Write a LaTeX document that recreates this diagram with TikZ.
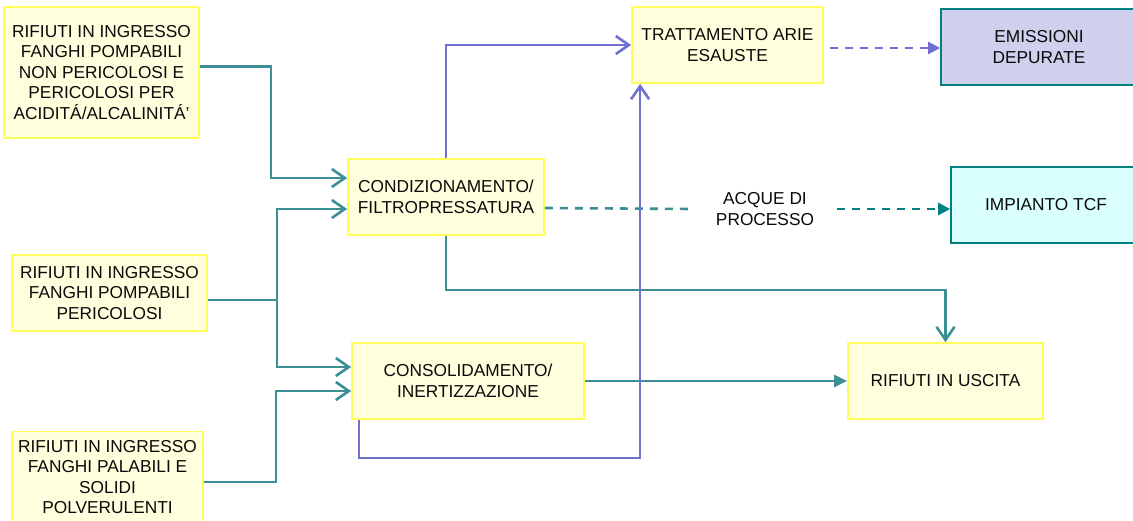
\documentclass[tikz,border=0pt]{standalone}
\usepackage{fontspec}
\setmainfont{Liberation Sans}
\usetikzlibrary{arrows.meta}
\definecolor{boxfill}{RGB}{255,255,221}
\definecolor{boxline}{RGB}{255,255,90}
\definecolor{tealline}{RGB}{61,143,150}
\definecolor{tealdark}{RGB}{0,128,128}
\definecolor{blueline}{RGB}{112,112,208}
\definecolor{emisfill}{RGB}{207,207,238}
\definecolor{tcffill}{RGB}{218,255,255}
\definecolor{textcol}{RGB}{10,10,10}

\begin{document}
\begin{tikzpicture}[x=1pt,y=-1pt]
\tikzstyle{every node}=[font=\fontsize{17.3}{20.5}\selectfont, text=textcol, align=center, inner sep=0pt]
\tikzstyle{stepbox}=[draw=boxline, fill=boxfill, line width=1.8pt]
\tikzstyle{outbox}=[draw=tealdark, line width=1.6pt]
\tikzstyle{feed}=[draw=tealline, line width=2.6pt, -{Straight Barb[length=13pt,width=18pt]}]
\tikzstyle{air}=[draw=blueline, line width=2.6pt, -{Straight Barb[length=13pt,width=18pt]}]
\tikzstyle{flow}=[draw=tealline, line width=2.6pt, -{Triangle[length=13pt,width=12pt]}]
\tikzstyle{dashflow}=[line width=2.6pt, dash pattern=on 8pt off 7pt]
\useasboundingbox (0,0) rectangle (1133,520);
\fill[white] (0,0) rectangle (1133,520);
% ingressi
\node at (101.5,72.5) [stepbox, minimum width=195pt, minimum height=131pt] (inA)
  {RIFIUTI IN INGRESSO\\FANGHI POMPABILI\\NON PERICOLOSI E\\PERICOLOSI PER\\ACIDITÁ/ALCALINITÁ’};
\node at (109.5,293) [stepbox, minimum width=195pt, minimum height=76pt] (inB)
  {RIFIUTI IN INGRESSO\\FANGHI POMPABILI\\PERICOLOSI};
\node at (107.5,477) [stepbox, minimum width=191pt, minimum height=91pt] (inC)
  {RIFIUTI IN INGRESSO\\FANGHI PALABILI E\\SOLIDI\\POLVERULENTI};
% trattamenti
\node at (446,197) [stepbox, minimum width=196pt, minimum height=76pt] (cond)
  {CONDIZIONAMENTO/\\FILTROPRESSATURA};
\node at (468,381) [stepbox, minimum width=232pt, minimum height=76pt] (cons)
  {CONSOLIDAMENTO/\\INERTIZZAZIONE};
\node at (727.5,45) [stepbox, minimum width=191pt, minimum height=76pt] (tratt)
  {TRATTAMENTO ARIE\\ESAUSTE};
% uscite
\node at (1039,47) [outbox, fill=emisfill, minimum width=196pt, minimum height=76pt] (emis)
  {EMISSIONI\\DEPURATE};
\node at (1046,205) [outbox, fill=tcffill, minimum width=190pt, minimum height=76pt] (tcf)
  {IMPIANTO TCF};
\node at (945.5,381) [stepbox, minimum width=195pt, minimum height=76pt] (usc)
  {RIFIUTI IN USCITA};
\node at (765,209) [minimum width=144pt] (acque) {ACQUE DI\\PROCESSO};
\coordinate (jB) at (277,300);

\draw[feed] ([yshift=6pt]inA.east) -- ++(71,0) |- ([yshift=19pt]cond.west);
\draw[draw=tealline, line width=2.6pt] ([yshift=-7pt]inB.east) -- (jB);
\draw[feed] (jB) |- ([yshift=-12pt]cond.west);
\draw[feed] (jB) |- ([yshift=14pt]cons.west);
\draw[feed] ([yshift=-5pt]inC.east) -- ++(72,0) |- ([yshift=-10pt]cons.west);
\draw[feed] (cond.south) -- ++(0,54) -| (usc.north);
\draw[flow] (cons.east) -- (usc.west);
\draw[dashflow, draw=tealline] ([yshift=-11pt]cond.east) -- (acque.west);
\draw[dashflow, draw=tealdark, -{Triangle[length=12pt,width=12pt]}] (acque.east) -- (tcf.west |- acque.east);
\draw[dashflow, draw=blueline, -{Triangle[length=12pt,width=12pt]}] ([xshift=6pt,yshift=-3pt]tratt.east) -- (emis.west |- 0,48);
\draw[air] (cond.north) |- (tratt.west);
\draw[air] ([xshift=8pt]cons.south west) -- ++(0,38) -| ([xshift=9pt]tratt.south west);
\end{tikzpicture}
\end{document}
